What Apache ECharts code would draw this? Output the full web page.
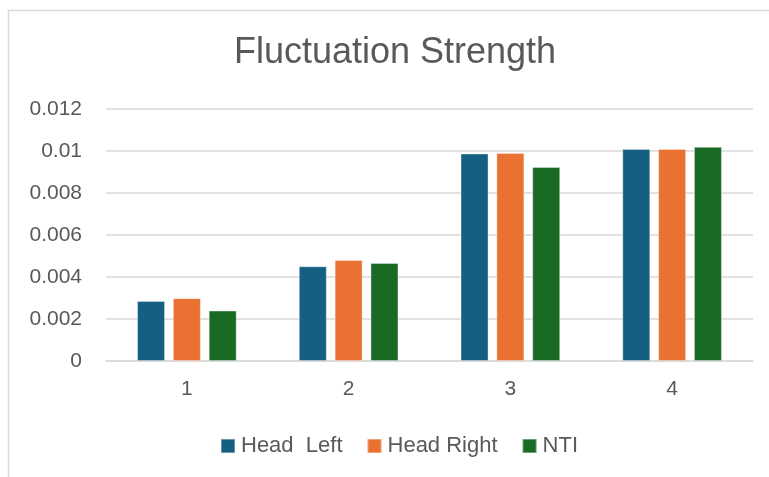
<!DOCTYPE html>
<html>
<head>
<meta charset="utf-8">
<script src="https://cdn.jsdelivr.net/npm/echarts@6/dist/echarts.min.js"></script>
<style>
  html, body { margin: 0; padding: 0; background: #ffffff; }
  #chart { width: 769px; height: 477px; }
</style>
</head>
<body>
<div id="chart"></div>
<script>
// Categories along the x axis
const categories = ['1', '2', '3', '4'];

// Series names and values
const seriesNames = ['Head  Left', 'Head Right', 'NTI'];
const headLeft  = [0.00286, 0.00451, 0.00988, 0.0101];
const headRight = [0.00299, 0.00481, 0.0099, 0.0101];
const nti       = [0.0024, 0.00467, 0.00924, 0.0102];

// Value axis ticks
const yMin = 0;
const yMax = 0.012;
const yStep = 0.002;

const colors = ['#156082', '#E97132', '#196B24'];
const textColor = '#595959';
const fontFamily = '"Liberation Sans", Arial, sans-serif';

const chart = echarts.init(document.getElementById('chart'), null, { renderer: 'canvas' });

const values = [headLeft, headRight, nti];

chart.setOption({
  animation: false,
  backgroundColor: '#ffffff',
  textStyle: { fontFamily: fontFamily, color: textColor },
  graphic: [{
    type: 'rect',
    shape: { x: 8.5, y: 10.5, width: 800, height: 520 },
    style: { fill: 'none', stroke: '#d9d9d9', lineWidth: 1.5 },
    silent: true,
    z: -10
  }],
  title: {
    text: 'Fluctuation Strength',
    left: 395,
    textAlign: 'center',
    top: 35,
    padding: 0,
    textStyle: { fontFamily: fontFamily, fontSize: 36, fontWeight: 'normal', color: textColor }
  },
  legend: {
    data: seriesNames,
    left: 220,
    top: 435,
    padding: 0,
    icon: 'rect',
    itemWidth: 14,
    itemHeight: 14,
    itemGap: 24,
    textStyle: { fontFamily: fontFamily, fontSize: 22, color: textColor, padding: [0, 0, 0, 1] }
  },
  grid: { left: 106, right: 16, top: 109, bottom: 116, containLabel: false },
  xAxis: {
    type: 'category',
    data: categories,
    axisLine: { show: true, lineStyle: { color: '#d9d9d9', width: 1.5 } },
    axisTick: { show: false },
    axisLabel: { fontFamily: fontFamily, fontSize: 21, color: textColor, margin: 18 }
  },
  yAxis: {
    type: 'value',
    min: yMin,
    max: yMax,
    interval: yStep,
    axisLine: { show: false },
    axisTick: { show: false },
    splitLine: { lineStyle: { color: '#d9d9d9', width: 1.5 } },
    axisLabel: { fontFamily: fontFamily, fontSize: 21, color: textColor, margin: 24 }
  },
  series: seriesNames.map((name, i) => ({
    name: name,
    type: 'bar',
    data: values[i],
    barWidth: 28,
    barGap: '28%',
    itemStyle: { color: colors[i], borderColor: 'rgba(255,255,255,0.35)', borderWidth: 1 }
  }))
});
</script>
</body>
</html>
